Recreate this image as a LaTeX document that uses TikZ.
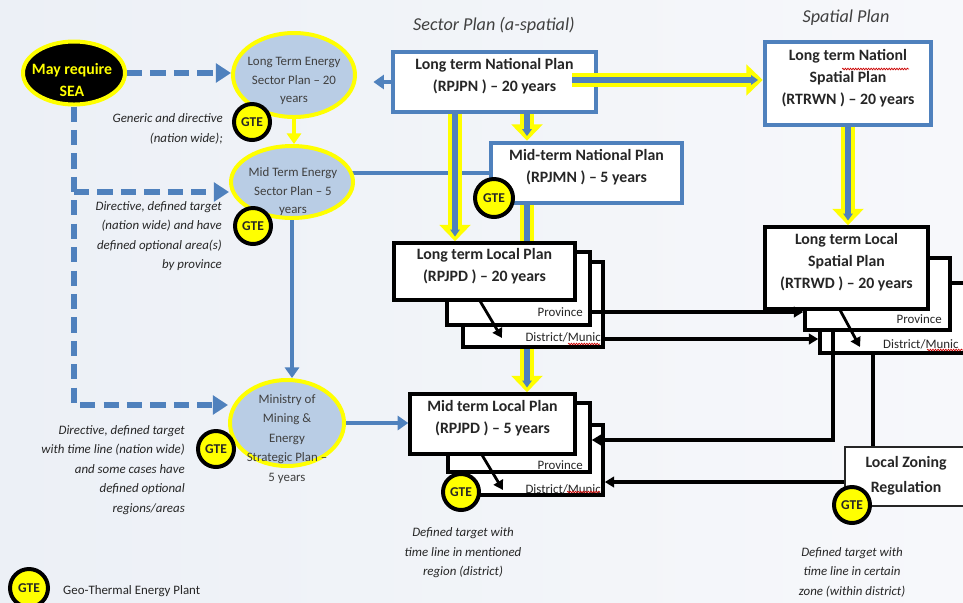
\documentclass[tikz,border=0pt]{standalone}
\usepackage{fontspec}
\setmainfont{Carlito}
\usetikzlibrary{arrows.meta,shapes.geometric,decorations.pathmorphing,calc,fit}
\definecolor{ofblue}{RGB}{79,129,189}
\definecolor{ylw}{RGB}{255,255,0}
\definecolor{ellfill}{RGB}{185,205,229}
\definecolor{bgl}{RGB}{236,240,246}
\definecolor{bgr}{RGB}{247,248,251}
\definecolor{txt}{RGB}{38,38,38}
\definecolor{gtxt}{RGB}{64,64,64}
\pgfdeclarelayer{bglayer}
\pgfdeclarelayer{lines}
\pgfsetlayers{bglayer,lines,main}
\newcommand\fsz[2]{\fontsize{#1}{#2}\selectfont}
\newcommand\ybarrow[2]{%
  \draw[ylw,line width=12pt,-{Triangle[length=14pt,width=26pt]}] #1 -- #2;
  \draw[ofblue,line width=4.5pt,shorten >=4pt,-{Triangle[length=6pt,width=8pt]}] #1 -- #2;}
\begin{document}
\begin{tikzpicture}[x=0.03cm,y=-0.03cm,
  bluebox/.style={draw=ofblue,line width=3.8pt,fill=white,inner sep=0pt,font=\fsz{13.5}{18.8}\bfseries,text=txt,align=center},
  stackbox/.style={draw=black,line width=3pt,fill=white,inner sep=0pt,font=\fsz{13.5}{18.8}\bfseries,text=txt,align=center},
  ellnode/.style={ellipse,draw=ylw,line width=3.4pt,fill=ellfill,inner sep=0pt},
  elltext/.style={font=\fsz{11}{15.8},text=gtxt,align=center,inner sep=0pt},
  gte/.style={circle,draw=black,line width=3.4pt,fill=ylw,minimum size=1.08cm,inner sep=0pt,font=\fsz{11.5}{12}\bfseries,text=txt},
  ann/.style={font=\fsz{11}{16.6}\itshape,text=txt,inner sep=0pt},
  lvl/.style={font=\fsz{11}{13},text=txt,inner sep=0pt,anchor=east},
  title/.style={font=\fsz{15.5}{17}\itshape,text=gtxt,inner sep=0pt},
  bluearrow/.style={draw=ofblue,line width=3.4pt,-{Triangle[length=9pt,width=12pt]}},
  dasharrow/.style={draw=ofblue,line width=5.5pt,dash pattern=on 13pt off 7pt,-{Triangle[length=13pt,width=16pt]}},
  blkarrow/.style={draw=black,line width=2.8pt,-{Triangle[length=8pt,width=9pt]}},
  blkline/.style={draw=black,line width=2.8pt},
  squig/.style={draw=red!80!black,line width=0.6pt,decorate,decoration={snake,amplitude=0.7pt,segment length=2.2pt}}
]
\useasboundingbox (0,0) rectangle (963,602);
\begin{pgfonlayer}{bglayer}
\fill[left color=bgl,right color=bgr] (0,0) rectangle (963,602);
\end{pgfonlayer}
\clip (0,0) rectangle (963,602);

% helper coordinates
\coordinate (c455) at (455,0);
\coordinate (c527) at (527,0);
\coordinate (x833) at (833,0);
\coordinate (x873) at (873,0);
\coordinate (y192) at (0,192);
\coordinate (y405) at (0,405);
\coordinate (y312) at (0,312);
\coordinate (y339) at (0,339);
\coordinate (y440) at (0,440);
\coordinate (y482) at (0,482);
\coordinate (ybs) at (572,80);

% titles
\node[title] (t1) at (494,25) {Sector Plan (a-spatial)};
\node[title] (t2) at (846,18) {Spatial Plan};

% ellipses
\node[ellnode,fill=black,minimum width=3.06cm,minimum height=1.89cm] (sea) at (74,73) {};
\node[font=\fsz{13.5}{19.6}\bfseries,text=ylw,align=center,inner sep=0pt] (seatxt) at (72,80) {May require\\SEA};
\node[ellnode,minimum width=3.66cm,minimum height=2.52cm] (ltes) at (294,75) {};
\node[elltext] (ltestxt) at (294,81) {Long Term Energy\\Sector Plan – 20\\years};
\node[ellnode,minimum width=3.66cm,minimum height=2.16cm] (mtes) at (292,182) {};
\node[elltext] (mtestxt) at (293,192) {Mid Term Energy\\Sector Plan – 5\\years};
\node[ellnode,minimum width=3.42cm,minimum height=2.58cm] (mmell) at (287,423) {};
\node[elltext,font=\fsz{11}{16.6}] (mmtxt) at (287,439) {Ministry of\\Mining \&\\Energy\\Strategic Plan –\\5 years};

% blue boxes
\node[bluebox,fit={(393,52) (596,112)}] (lnp) {Long term National Plan\\(RPJPN ) – 20 years};
\node[bluebox,fit={(491,143) (682,203)}] (mnp) {Mid-term National Plan\\(RPJMN ) – 5 years};
\node[bluebox,fit={(765,42) (931,125)}] (lsp) {Long term Nationl\\Spatial Plan\\(RTRWN ) – 20 years};

% long term local stack
\node[stackbox,fit={(463,262) (603,347)}] (llp3) {};
\node[stackbox,fit={(447,252) (590,325)}] (llp2) {};
\node[stackbox,fit={(394,243) (575,300)}] (llp) {Long term Local Plan\\(RPJPD ) – 20 years};
\node[lvl] (llpprov) at (583,312) {Province};
\node[lvl] (llpdist) at (601,337) {District/Munic};

% mid term local stack
\node[stackbox,fit={(463,425) (603,495)}] (mlp3) {};
\node[stackbox,fit={(448,403) (590,472)}] (mlp2) {};
\node[stackbox,fit={(410,394) (575,454)}] (mlp) {Mid term Local Plan\\(RPJPD ) – 5 years};
\node[lvl] (mlpprov) at (583,465) {Province};
\node[lvl] (mlpdist) at (601,489) {District/Munic};

% long term local spatial stack
\node[stackbox,fit={(820,283) (985,353)}] (lsl3) {};
\node[stackbox,fit={(805,258) (950,330)}] (lsl2) {};
\node[stackbox,fit={(765,227) (928,309)}] (lsl) {Long term Local\\Spatial Plan\\(RTRWD ) – 20 years};
\node[lvl] (lslprov) at (942,319) {Province};
\node[lvl,anchor=west] (lsldist) at (883,344) {District/Munic};

% local zoning
\node[stackbox,draw=black!85,line width=1.8pt,fit={(845,447) (985,506)}] (lzr) {};
\node[font=\fsz{13.5}{21}\bfseries,text=txt,align=center,inner sep=0pt] (lzrtxt) at (906,476) {Local Zoning\\Regulation};

% annotations
\node[ann,align=right,anchor=east] (a1) at (223,129) {Generic and directive\\(nation wide);};
\node[ann,align=right,anchor=east] (a2) at (222,236) {Directive, defined target\\(nation wide) and have\\defined optional area(s)\\by province};
\node[ann,align=right,anchor=east] (a3) at (185,470) {Directive, defined target\\with time line (nation wide)\\and some cases have\\defined optional\\regions/areas};
\node[ann,align=center] (a4) at (463,553) {Defined target with\\time line in mentioned\\region (district)};
\node[ann,align=center] (a5) at (852,572) {Defined target with\\time line in certain\\zone (within district)};

% connectors on lower layer
\begin{pgfonlayer}{lines}
\draw[draw=ofblue,line width=3.4pt] (mnp.west) -- (mnp.west -| mtes.center);
\ybarrow{(c527 |- mnp.south)}{(c527 |- mlp.north)}
\end{pgfonlayer}

% dashed SEA connectors
\draw[dasharrow] (sea.east) -- (sea.east -| ltes.west);
\draw[dasharrow] (sea.south) -- (sea.south |- y405) -- (mmell.west |- y405);
\draw[dasharrow] (sea.south |- y192) -- (mtes.west |- y192);

% energy chain
\draw[draw=ylw,line width=3pt,-{Triangle[length=9pt,width=12pt]}] (ltes.south) -- (ltes.south |- mtes.north);
\draw[bluearrow,shorten >=14pt] (lnp.west) -- (lnp.west -| ltes.east);
\draw[bluearrow] (mtes.south) -- (mtes.south |- mmell.north);
\draw[bluearrow] (mmell.east) -- (mmell.east -| mlp.west);

% yellow-blue arrows
\ybarrow{(c455 |- lnp.south)}{(c455 |- llp.north)}
\ybarrow{(c527 |- lnp.south)}{(c527 |- mnp.north)}
\ybarrow{(ybs)}{(ybs -| lsp.west)}
\ybarrow{(lsp.south)}{(lsp.south |- lsl.north)}

% black connectors
\draw[blkarrow] (llp2.east |- y312) -- (lsl2.west |- y312);
\draw[blkarrow] (llp3.east |- y339) -- (lsl3.west |- y339);
\draw[blkarrow] (x833 |- lsl2.south) -- (x833 |- y440) -- (mlp2.east |- y440);
\draw[blkline] (x873 |- lsl3.south) -- (x873 |- lzr.north);
\draw[blkarrow] (lzr.west |- y482) -- (mlp3.east |- y482);

% diagonal arrows inside stacks
\coordinate (d1s) at (480,301); \coordinate (d1e) at (502,338);
\coordinate (d2s) at (482,455); \coordinate (d2e) at (503,490);
\coordinate (d3s) at (840,310); \coordinate (d3e) at (860,347);
\draw[blkarrow,line width=2.4pt] (d1s) -- (d1e);
\draw[blkarrow,line width=2.4pt] (d2s) -- (d2e);
\draw[blkarrow,line width=2.4pt] (d3s) -- (d3e);

% spell-check squiggles
\draw[squig] (842,69) -- (909,69);
\draw[squig] (568,344) -- (600,344);
\draw[squig] (567,492) -- (600,492);
\draw[squig] (927,350) -- (963,350);

% GTE markers
\node[gte] (g1) at (252,122) {GTE};
\node[gte] (g2) at (253,226) {GTE};
\node[gte] (g3) at (216,449) {GTE};
\node[gte,minimum size=1.14cm] (g4) at (494,198) {GTE};
\node[gte] (g5) at (461,492) {GTE};
\node[gte] (g6) at (852,505) {GTE};
\node[gte,minimum size=1.14cm] (g7) at (29,588) {GTE};
\node[font=\fsz{11}{13},text=txt,anchor=west,inner sep=0pt] (legtxt) at (63,591) {Geo-Thermal Energy Plant};
\end{tikzpicture}
\end{document}
